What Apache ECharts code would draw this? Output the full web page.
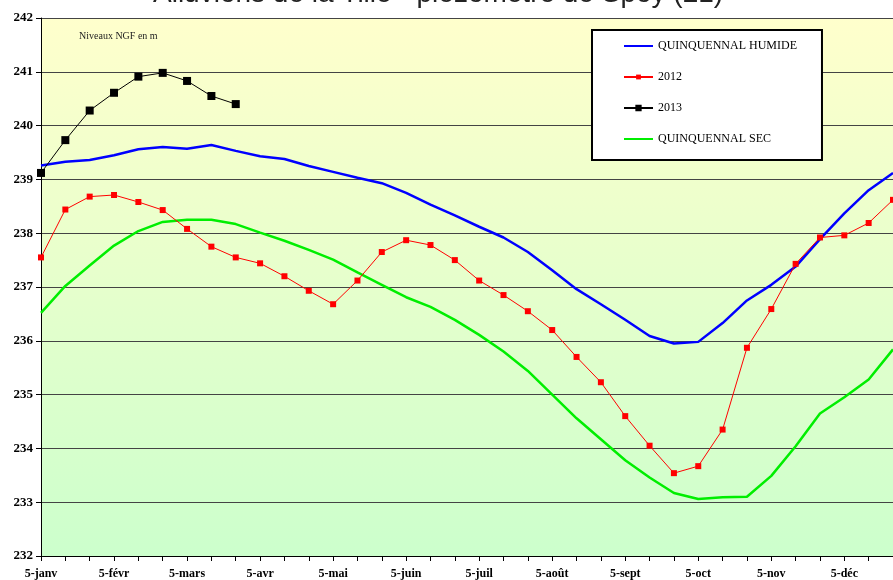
<!DOCTYPE html>
<html>
<head>
<meta charset="utf-8">
<script src="https://cdn.jsdelivr.net/npm/echarts@6/dist/echarts.min.js"></script>
<style>
  html, body { margin: 0; padding: 0; background: #fff; }
  #main { width: 893px; height: 580px; }
</style>
</head>
<body>
<div id="main"></div>
<script>
// mois et décades (5, 15, 25 de chaque mois)
var months = ["janv", "févr", "mars", "avr", "mai", "juin", "juil", "août", "sept", "oct", "nov", "déc"];
var days = [5, 15, 25];
var categories = [];
months.forEach(function (m) {
  days.forEach(function (d) { categories.push(d + "-" + m); });
});

var humide = [239.26, 239.33, 239.36, 239.45, 239.56, 239.60, 239.57, 239.64, 239.53, 239.43,
  239.38, 239.25, 239.14, 239.03, 238.93, 238.75, 238.53, 238.33, 238.12, 237.92,
  237.65, 237.31, 236.96, 236.68, 236.39, 236.09, 235.95, 235.98, 236.33, 236.75,
  237.04, 237.38, 237.89, 238.37, 238.80, 239.12];
var an2012 = [237.55, 238.44, 238.68, 238.71, 238.58, 238.43, 238.08, 237.75, 237.55, 237.44,
  237.20, 236.93, 236.68, 237.12, 237.65, 237.87, 237.78, 237.50, 237.12, 236.85,
  236.55, 236.20, 235.70, 235.23, 234.60, 234.05, 233.54, 233.67, 234.35, 235.87,
  236.59, 237.43, 237.92, 237.96, 238.19, 238.62];
var an2013 = [239.12, 239.73, 240.28, 240.61, 240.91, 240.98, 240.83, 240.55, 240.40];
var sec = [236.52, 237.02, 237.40, 237.77, 238.04, 238.21, 238.25, 238.25, 238.17, 238.01,
  237.86, 237.69, 237.51, 237.27, 237.04, 236.81, 236.63, 236.39, 236.11, 235.80,
  235.44, 235.00, 234.56, 234.17, 233.78, 233.46, 233.17, 233.06, 233.09, 233.10,
  233.49, 234.04, 234.65, 234.95, 235.28, 235.84];

var serif = "'Liberation Serif', 'Times New Roman', serif";
var chart = echarts.init(document.getElementById("main"));

var option = {
  animation: false,
  title: {
    text: "Alluvions de la Tille - piézomètre de Spoy (21)",
    left: 148,
    top: -25,
    textStyle: {
      fontFamily: "'Liberation Sans', Arial, sans-serif",
      fontSize: 28,
      fontWeight: "normal",
      color: "#222"
    }
  },
  grid: {
    left: 41,
    top: 18,
    right: -6,
    bottom: 24,
    show: true,
    borderWidth: 0,
    backgroundColor: new echarts.graphic.LinearGradient(0, 0, 0, 1, [
      { offset: 0, color: "#ffffcc" },
      { offset: 1, color: "#ccffcc" }
    ])
  },
  legend: {
    orient: "vertical",
    left: 592,
    top: 30,
    padding: [10, 25, 15, 31],
    itemWidth: 29,
    itemHeight: 6,
    itemGap: 19,
    backgroundColor: "#fff",
    borderColor: "#000",
    borderWidth: 2,
    textStyle: { fontFamily: serif, fontSize: 12, color: "#000" },
    data: [
      { name: "QUINQUENNAL HUMIDE", itemStyle: { opacity: 0 } },
      { name: "2012" },
      { name: "2013", itemStyle: { borderColor: "#000", borderWidth: 1.5 } },
      { name: "QUINQUENNAL SEC", itemStyle: { opacity: 0 } }
    ]
  },
  xAxis: {
    type: "category",
    boundaryGap: false,
    data: categories,
    axisLine: { lineStyle: { color: "#000", width: 1 } },
    axisTick: { show: true, interval: 0, length: 5, lineStyle: { color: "#000" } },
    axisLabel: {
      interval: 2,
      margin: 12,
      fontFamily: serif,
      fontWeight: "bold",
      fontSize: 12,
      color: "#000"
    },
    splitLine: { show: false }
  },
  yAxis: {
    type: "value",
    min: 232,
    max: 242,
    interval: 1,
    axisLine: { show: true, lineStyle: { color: "#000", width: 1 } },
    axisTick: { show: true, length: 5, lineStyle: { color: "#000" } },
    axisLabel: {
      margin: 8,
      fontFamily: serif,
      fontWeight: "bold",
      fontSize: 13,
      color: "#000"
    },
    splitLine: { lineStyle: { color: "#444", width: 1 } }
  },
  graphic: [
    {
      type: "text",
      left: 79,
      top: 31,
      style: { text: "Niveaux NGF en m", font: "10px " + serif, fill: "#222" }
    }
  ],
  series: [
    {
      name: "QUINQUENNAL HUMIDE",
      type: "line",
      data: humide,
      symbol: "none",
      lineStyle: { color: "#0000ff", width: 2.5 },
      itemStyle: { color: "#0000ff" },
      z: 3
    },
    {
      name: "2012",
      type: "line",
      data: an2012,
      symbol: "rect",
      symbolSize: 6,
      lineStyle: { color: "#ff0000", width: 1 },
      itemStyle: { color: "#ff0000" },
      z: 4
    },
    {
      name: "2013",
      type: "line",
      data: an2013,
      symbol: "rect",
      symbolSize: 8,
      lineStyle: { color: "#000", width: 1 },
      itemStyle: { color: "#000" },
      z: 5
    },
    {
      name: "QUINQUENNAL SEC",
      type: "line",
      data: sec,
      symbol: "none",
      lineStyle: { color: "#00ee00", width: 2.5 },
      itemStyle: { color: "#00ee00" },
      z: 3
    }
  ]
};

chart.setOption(option);
</script>
</body>
</html>
